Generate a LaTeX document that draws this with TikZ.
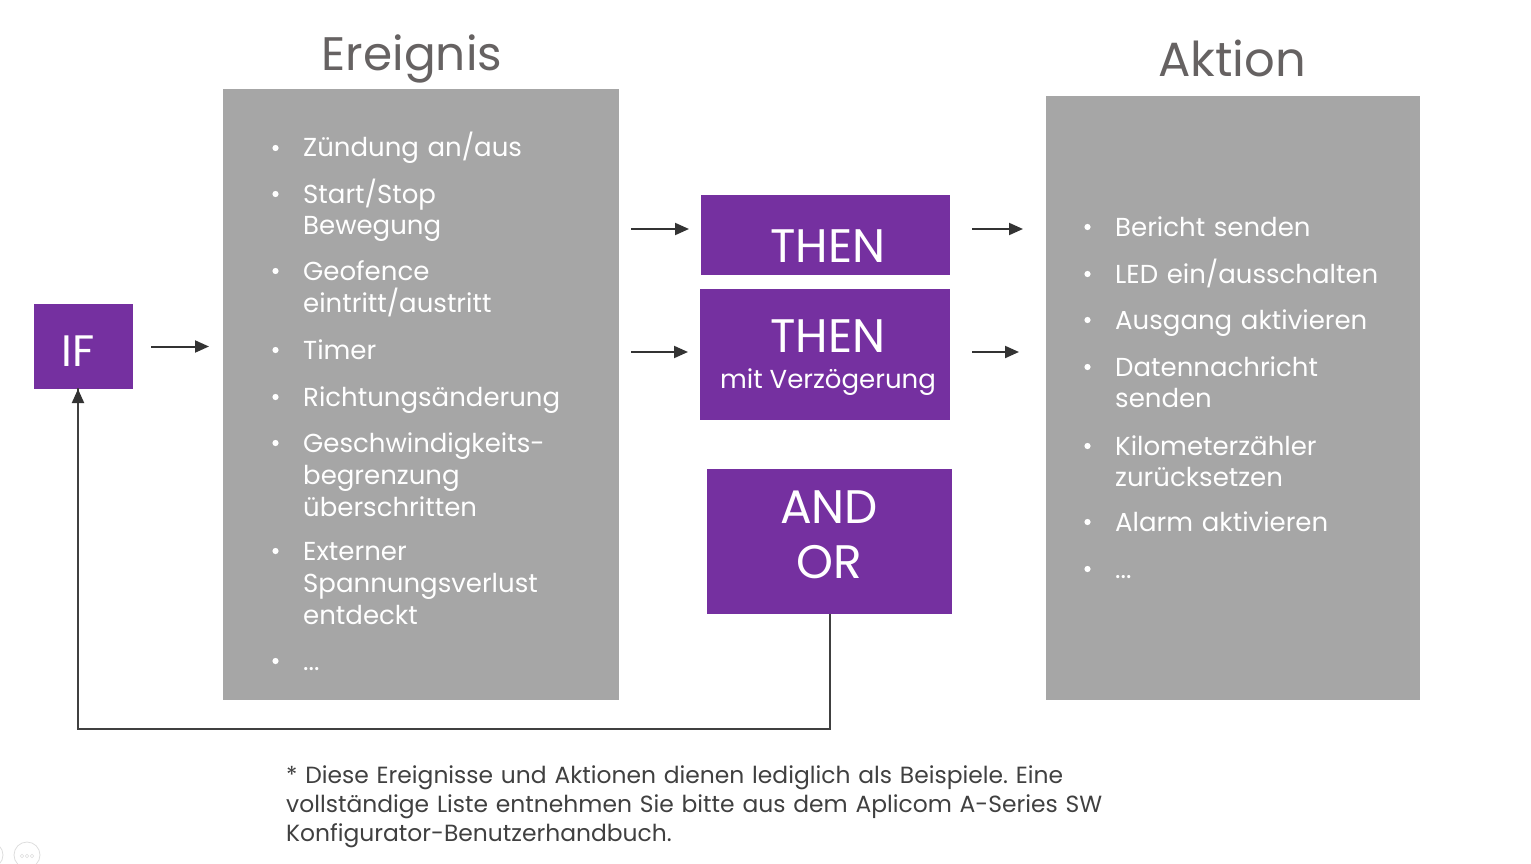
\documentclass[tikz,border=0pt]{standalone}
\usepackage{fontspec}
\setmainfont{Poppins}
\usetikzlibrary{arrows.meta}
\definecolor{purp}{HTML}{7530A0}
\definecolor{boxgray}{HTML}{A6A6A6}
\definecolor{titlegray}{HTML}{666262}
\definecolor{arrowc}{HTML}{333333}
\definecolor{notec}{HTML}{404040}
\definecolor{uic}{HTML}{DDDDDD}
\frenchspacing
\begin{document}
\begin{tikzpicture}[x=1pt,y=-1pt,
  pbox/.style={fill=purp,draw=none,inner sep=0,outer sep=0},
  gbox/.style={fill=boxgray,draw=none,inner sep=0,outer sep=0},
  title/.style={anchor=base,inner sep=0,text=titlegray,font=\fontsize{48}{52}\selectfont},
  ptext/.style={anchor=base,inner sep=0,text=white,font=\fontsize{47}{52}\selectfont},
  psmall/.style={anchor=base,inner sep=0,text=white,font=\fontsize{26}{32}\selectfont},
  item/.style={anchor=base west,inner sep=0,text=white,text width=330pt,align=left,font=\fontsize{26}{32}\selectfont},
  bul/.style={fill=white,draw=none},
  arr/.style={draw=arrowc,line width=2pt,-{Triangle[length=14pt,width=12pt]}},
  fb/.style={draw=notec,line width=1.8pt},
  note/.style={anchor=base west,inner sep=0,text=notec,text width=900pt,align=left,font=\fontsize{23.4}{29}\selectfont}
]
\useasboundingbox (0,0) rectangle (1531,864);

% titles
\node[title,font=\fontsize{47}{52}\selectfont] (tev) at (412,71) {Ereignis};
\node[title] (tak) at (1232,77) {Aktion};

% boxes
\node[pbox,minimum width=99pt,minimum height=85pt] (if) at (83.5,346.5) {};
\node[gbox,minimum width=396pt,minimum height=611pt] (ev) at (421,394.5) {};
\node[pbox,minimum width=249pt,minimum height=80pt] (t1) at (825.5,235) {};
\node[pbox,minimum width=250pt,minimum height=131pt] (t2) at (825,354.5) {};
\node[pbox,minimum width=245pt,minimum height=145pt] (ao) at (829.5,541.5) {};
\node[gbox,minimum width=374pt,minimum height=604pt] (ak) at (1233,398) {};

% box texts
\node[ptext,font=\fontsize{44}{50}\selectfont] (tif) at (78,366) {IF};
\node[ptext] (tt1) at (828,262) {THEN};
\node[ptext] (tt2) at (828,352) {THEN};
\node[psmall] (tt2b) at (828,388) {mit Verzögerung};
\node[ptext] (tand) at (829,523) {AND};
\node[ptext] (tor) at (829,578) {OR};

% Ereignis items
\foreach \y/\t [count=\i] in {157/{Zündung an/aus},203/{Start/Stop\\Bewegung},280/{Geofence\\eintritt/austritt},359/{Timer},406/{Richtungsänderung},452/{Geschwindigkeits-\\begrenzung\\überschritten},560/{Externer\\Spannungsverlust\\entdeckt},670/{...}}{
  \node[item] (e\i) at (303,\y) {\t};
  \fill[bul] (275.5,\y-9) circle (3.1pt);
}

% Aktion items
\foreach \y/\t [count=\i] in {236/{Bericht senden},283/{LED ein/ausschalten},329/{Ausgang aktivieren},376/{Datennachricht\\senden},455/{Kilometerzähler\\zurücksetzen},531/{Alarm aktivieren},578/{...}}{
  \node[item,font=\fontsize{26}{31}\selectfont] (a\i) at (1115,\y) {\t};
  \fill[bul] (1087.5,\y-9) circle (3.1pt);
}

% arrows
\draw[arr] ([xshift=18pt]if.east) -- ([xshift=-14pt]ev.west |- if.east);
\draw[arr] ([xshift=12pt,yshift=6pt]ev.east |- t1.center) -- ([xshift=-12pt,yshift=6pt]t1.west);
\draw[arr] ([xshift=12pt,yshift=2.5pt]ev.east |- t2.center) -- ([xshift=-12pt,yshift=2.5pt]t2.west);
\draw[arr] ([xshift=22pt,yshift=6pt]t1.east) -- ([xshift=-23pt,yshift=6pt]ak.west |- t1.east);
\draw[arr] ([xshift=22pt,yshift=2.5pt]t2.east) -- ([xshift=-27pt,yshift=2.5pt]ak.west |- t2.east);

% feedback loop
\coordinate (c1) at (830,729);
\coordinate (c2) at (78,729);
\draw[fb] (ao.south -| c1) -- (c1) -- (c2) -- ([yshift=1pt]c2 |- if.south);
\draw[arr] ([yshift=-6pt]c2 |- if.south) -- (c2 |- if.south);

% footnote
\node[note] (fn) at (286,783) {* Diese Ereignisse und Aktionen dienen lediglich als Beispiele. Eine\\vollständige Liste entnehmen Sie bitte aus dem Aplicom A-Series SW\\Konfigurator-Benutzerhandbuch.};

% slide UI remnants
\draw[uic,line width=0.8pt] (27,855) circle (13pt);
\draw[uic,line width=0.8pt] (-10,855) circle (13pt);
\foreach \dx in {-5,0,5} \draw[uic,line width=0.6pt] (27+\dx,856) circle (1.8pt);
\end{tikzpicture}
\end{document}
